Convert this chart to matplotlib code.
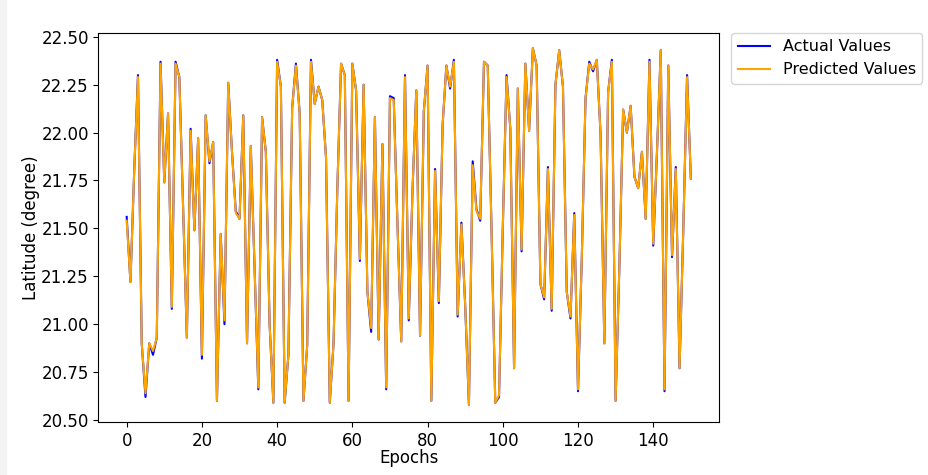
import matplotlib.pyplot as plt
from matplotlib.patches import Rectangle

# latitude values, one per epoch (0..150)
actual_values = [
    21.56, 21.22, 21.80, 22.30, 20.90, 20.62, 20.90, 20.84, 20.93, 22.37,
    21.74, 22.10, 21.08, 22.37, 22.29, 21.60, 20.93, 22.02, 21.49, 21.97,
    20.82, 22.09, 21.84, 21.95, 20.60, 21.47, 21.00, 22.26, 21.90, 21.59,
    21.55, 22.09, 20.90, 21.93, 21.30, 20.66, 22.08, 21.90, 21.00, 20.59,
    22.38, 22.24, 20.59, 20.84, 22.13, 22.36, 22.10, 20.60, 20.89, 22.38,
    22.15, 22.24, 22.17, 21.87, 20.59, 20.90, 21.70, 22.36, 22.30, 20.60,
    22.36, 22.22, 21.33, 22.25, 21.17, 20.96, 22.08, 20.92, 21.94, 20.66,
    22.19, 22.18, 21.52, 20.91, 22.30, 21.02, 21.70, 22.22, 20.94, 22.11,
    22.35, 20.60, 21.81, 21.11, 22.04, 22.35, 22.23, 22.38, 21.04, 21.53,
    21.10, 20.58, 21.85, 21.60, 21.54, 22.37, 22.35, 21.50, 20.59, 20.62,
    21.50, 22.30, 22.02, 20.77, 22.23, 21.38, 22.36, 22.01, 22.44, 22.35,
    21.21, 21.13, 21.82, 21.07, 22.25, 22.43, 22.24, 21.17, 21.03, 21.58,
    20.65, 21.34, 22.18, 22.37, 22.32, 22.38, 21.99, 20.90, 22.21, 22.38,
    20.60, 21.30, 22.12, 22.00, 22.14, 21.77, 21.71, 21.90, 21.55, 22.38,
    21.41, 21.90, 22.43, 20.65, 22.35, 21.35, 21.82, 20.77, 21.50, 22.30,
    21.76,
]

predicted_values = [
    21.54, 21.22, 21.80, 22.29, 20.90, 20.64, 20.90, 20.86, 20.93, 22.36,
    21.74, 22.10, 21.09, 22.36, 22.29, 21.60, 20.93, 22.01, 21.49, 21.97,
    20.84, 22.09, 21.85, 21.95, 20.60, 21.47, 21.02, 22.26, 21.90, 21.58,
    21.55, 22.09, 20.90, 21.93, 21.30, 20.67, 22.08, 21.90, 21.00, 20.59,
    22.37, 22.24, 20.59, 20.84, 22.13, 22.35, 22.10, 20.60, 20.89, 22.37,
    22.15, 22.24, 22.17, 21.87, 20.59, 20.90, 21.70, 22.36, 22.30, 20.60,
    22.36, 22.22, 21.34, 22.25, 21.17, 20.98, 22.08, 20.92, 21.94, 20.67,
    22.18, 22.17, 21.52, 20.91, 22.29, 21.03, 21.70, 22.22, 20.94, 22.11,
    22.35, 20.60, 21.80, 21.12, 22.04, 22.35, 22.24, 22.37, 21.05, 21.52,
    21.10, 20.58, 21.83, 21.59, 21.55, 22.37, 22.35, 21.50, 20.59, 20.63,
    21.50, 22.29, 22.02, 20.77, 22.23, 21.39, 22.36, 22.01, 22.44, 22.35,
    21.21, 21.14, 21.81, 21.08, 22.25, 22.43, 22.24, 21.17, 21.04, 21.57,
    20.66, 21.34, 22.18, 22.36, 22.33, 22.38, 21.99, 20.90, 22.21, 22.37,
    20.60, 21.30, 22.12, 22.00, 22.14, 21.77, 21.71, 21.90, 21.55, 22.37,
    21.42, 21.90, 22.43, 20.66, 22.35, 21.36, 21.81, 20.77, 21.50, 22.29,
    21.76,
]

epochs = list(range(len(actual_values)))

fig = plt.figure(figsize=(9.29, 4.75), dpi=100)
fig.patch.set_facecolor('white')
fig.add_artist(Rectangle((0, 0), 6 / 929, 1, transform=fig.transFigure,
                         color='#f3f3f3', zorder=-1))
ax = fig.add_axes([0.106, 0.111, 0.668, 0.820])

ax.plot(epochs, actual_values, color='blue', label='Actual Values')
ax.plot(epochs, predicted_values, color='orange', label='Predicted Values')

ax.set_xlabel('Epochs', fontsize=12, labelpad=-1)
ax.set_ylabel('Latitude (degree)', fontsize=12, labelpad=0.5)
ax.tick_params(labelsize=12)
ax.set_xticks(range(0, 141, 20))
ax.set_yticks([20.50, 20.75, 21.00, 21.25, 21.50, 21.75, 22.00, 22.25, 22.50])
ax.set_yticklabels(['20.50', '20.75', '21.00', '21.25', '21.50', '21.75',
                    '22.00', '22.25', '22.50'])
ax.set_ylim(20.488, 22.521)

ax.legend(loc='upper left', bbox_to_anchor=(1.02, 1.0), borderaxespad=0,
          fontsize=11.5)

plt.savefig('out.png', dpi=100)
